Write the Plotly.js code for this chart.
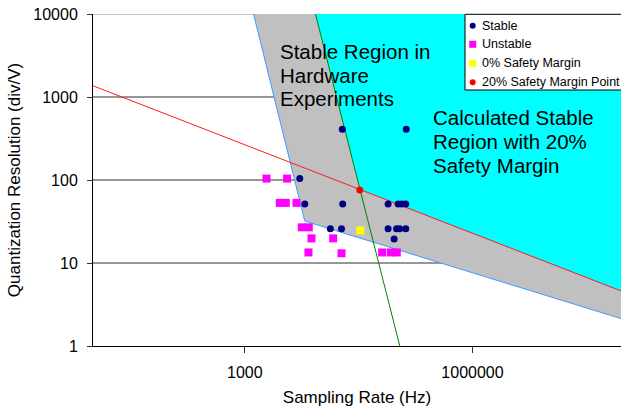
<!DOCTYPE html>
<html>
<head>
<meta charset="utf-8">
<script src="https://cdn.plot.ly/plotly-3.0.1.min.js"></script>
<style>
  html, body { margin: 0; padding: 0; background: #ffffff; }
  #chart { width: 621px; height: 407px; }
</style>
</head>
<body>
<div id="chart"></div>
<script>
// Hardware runs: sampling rate (Hz) against quantization resolution (div/V)
const stableRate = [5300, 6170, 19300, 134000, 19500, 77300, 104700, 117000, 132000,
                    13400, 18800, 77300, 99800, 110000, 132000, 92700];
const stableRes  = [104, 51.5, 409, 409, 51.5, 51.5, 51.5, 51.5, 51.5,
                    25.8, 25.8, 25.8, 25.8, 25.8, 25.8, 19.4];

const unstableRate = [1930, 3610, 2890, 3470, 4800, 5630, 6970, 7570, 6900,
                      14600, 18800, 64400, 83900, 100700];
const unstableRes  = [104, 104, 53, 53, 53, 26.9, 26.9, 19.8, 13.4,
                      19.8, 13.1, 13.4, 13.4, 13.4];

const zeroMarginRate = [33400];
const zeroMarginRes  = [24.7];

const marginPointRate = [32700];
const marginPointRes  = [75.7];

// Boundary of the stable region observed in hardware (blue)
const hwBoundRate = [1303, 6166, 100000000];
const hwBoundRes  = [10000, 32, 2.08];

// Calculated limits with 20% safety margin
const resLimitRate  = [10, 100000000];   // red: resolution limit
const resLimitRes   = [1365, 4.45];
const rateLimitRate = [8530, 110100];    // green: sampling-rate limit
const rateLimitRes  = [10000, 1];

// Axis extents and ticks
const xMin = 10, xMax = 100000000, yMin = 1, yMax = 10000;
const xTickVals = [1000, 1000000];
const xTickText = ['1000', '1000000'];
const yTickVals = [1, 10, 100, 1000, 10000];
const yTickText = ['1', '10', '100', '1000', '10000'];
const gridVals  = [10, 100, 1000];

const legendNames = ['Stable', 'Unstable', '0% Safety Margin', '20% Safety Margin Point'];

// ---- geometry of the plotting area (px) ----
const W = 621, H = 407;
const M = { l: 93, r: 0, t: 14, b: 61 };
const plotW = W - M.l - M.r, plotH = H - M.t - M.b;
const pxPerDecadeX = 75.9;
const xRangeLog = [1, 1 + plotW / pxPerDecadeX];
const px = x => (x - M.l) / plotW;          // page x -> paper x
const py = y => (H - M.b - y) / plotH;      // page y -> paper y

const FONT = 'Liberation Sans, Arial, sans-serif';

// intersection of the two safety-margin lines (in log space)
function intersect(ax, ay, bx, by) {
  const L = Math.log10;
  const m1 = (L(ay[1]) - L(ay[0])) / (L(ax[1]) - L(ax[0]));
  const m2 = (L(by[1]) - L(by[0])) / (L(bx[1]) - L(bx[0]));
  const c1 = L(ay[0]) - m1 * L(ax[0]);
  const c2 = L(by[0]) - m2 * L(bx[0]);
  const lx = (c2 - c1) / (m1 - m2);
  return [Math.pow(10, lx), Math.pow(10, m1 * lx + c1)];
}
const corner = intersect(resLimitRate, resLimitRes, rateLimitRate, rateLimitRes);

function pathOf(pts) {
  return 'M' + pts.map(p => p[0] + ',' + p[1]).join('L') + 'Z';
}

const hwRegion = hwBoundRate.map((x, i) => [x, hwBoundRes[i]]).concat([[xMax, yMax]]);
const calcRegion = [
  [rateLimitRate[0], rateLimitRes[0]],
  corner,
  [resLimitRate[1], resLimitRes[1]],
  [xMax, yMax]
];

const shapes = [
  { type: 'path', xref: 'x', yref: 'y', layer: 'below', path: pathOf(hwRegion),
    fillcolor: '#c0c0c0', line: { width: 0 } },
  { type: 'path', xref: 'x', yref: 'y', layer: 'below', path: pathOf(calcRegion),
    fillcolor: '#00ffff', line: { width: 0 } }
];

// horizontal gridlines (the 1000 line stops behind the "Experiments" label)
const textGap = [px(278), px(397)];
gridVals.forEach(v => {
  const segs = v === 1000 ? [[0, textGap[0]], [textGap[1], 1]] : [[0, 1]];
  segs.forEach(s => shapes.push({
    type: 'line', xref: 'paper', yref: 'y', layer: 'below',
    x0: s[0], x1: s[1], y0: v, y1: v, line: { color: '#2e2e2e', width: 1 }
  }));
});
shapes.push({ type: 'line', xref: 'paper', yref: 'y', layer: 'below',
  x0: 0, x1: 1, y0: yMax, y1: yMax, line: { color: '#8a8a8a', width: 1 } });

// legend box and swatches
shapes.push({ type: 'rect', xref: 'paper', yref: 'paper', layer: 'above',
  x0: px(465), x1: px(630), y0: py(90), y1: py(14.3),
  fillcolor: '#ffffff', line: { color: '#000000', width: 1 } });

const legendRowsY = [25.7, 44.3, 63.3, 82.3];
const swatch = [
  { kind: 'circle', color: '#000080', size: 6 },
  { kind: 'rect',   color: '#ff00ff', size: 7 },
  { kind: 'rect',   color: '#ffff00', size: 7 },
  { kind: 'circle', color: '#ff0000', size: 6 }
];
swatch.forEach((s, i) => {
  const h = s.size / 2;
  shapes.push({ type: s.kind, layer: 'above',
    xref: 'paper', yref: 'paper', xsizemode: 'pixel', ysizemode: 'pixel',
    xanchor: px(472.7), yanchor: py(legendRowsY[i]),
    x0: -h, x1: h, y0: -h, y1: h,
    fillcolor: s.color, line: { width: 0 } });
});

const annotations = [];
legendNames.forEach((name, i) => annotations.push({
  xref: 'paper', yref: 'paper', x: px(479.5), y: py(legendRowsY[i]),
  xanchor: 'left', yanchor: 'middle', showarrow: false, text: name,
  font: { family: FONT, size: 12.5, color: '#000000' }
}));

const regionText = [
  { lines: ['Stable Region in', 'Hardware', 'Experiments'], x: 277.5, ys: [51.7, 75.3, 99] },
  { lines: ['Calculated Stable', 'Region with 20%', 'Safety Margin'], x: 431, ys: [117.3, 141.7, 165.3] }
];
regionText.forEach(b => b.lines.forEach((t, i) => annotations.push({
  xref: 'paper', yref: 'paper', x: px(b.x), y: py(b.ys[i]),
  xanchor: 'left', yanchor: 'middle', showarrow: false, text: t,
  font: { family: FONT, size: 20.5, color: '#000000' }
})));

const traces = [
  { x: hwBoundRate, y: hwBoundRes, mode: 'lines', name: 'Hardware boundary',
    line: { color: '#3d9bff', width: 1 }, showlegend: false, hoverinfo: 'skip' },
  { x: resLimitRate, y: resLimitRes, mode: 'lines', name: 'Resolution limit',
    line: { color: '#ff1a1a', width: 1 }, showlegend: false, hoverinfo: 'skip' },
  { x: rateLimitRate, y: rateLimitRes, mode: 'lines', name: 'Sampling-rate limit',
    line: { color: '#008000', width: 1 }, showlegend: false, hoverinfo: 'skip' },
  { x: stableRate, y: stableRes, mode: 'markers', name: legendNames[0],
    marker: { symbol: 'circle', size: 7, color: '#000080' }, showlegend: false },
  { x: unstableRate, y: unstableRes, mode: 'markers', name: legendNames[1],
    marker: { symbol: 'square', size: 8, color: '#ff00ff' }, showlegend: false },
  { x: zeroMarginRate, y: zeroMarginRes, mode: 'markers', name: legendNames[2],
    marker: { symbol: 'square', size: 8, color: '#ffff00' }, showlegend: false },
  { x: marginPointRate, y: marginPointRes, mode: 'markers', name: legendNames[3],
    marker: { symbol: 'circle', size: 7, color: '#ff0000' }, showlegend: false }
];

const layout = {
  width: W, height: H,
  margin: M,
  paper_bgcolor: '#ffffff', plot_bgcolor: '#ffffff',
  font: { family: FONT, color: '#000000' },
  showlegend: false,
  xaxis: {
    type: 'log', range: xRangeLog, autorange: false,
    tickmode: 'array', tickvals: xTickVals, ticktext: xTickText,
    ticks: 'outside', ticklen: 6, tickcolor: '#333333', tickwidth: 1,
    ticklabelstandoff: 6,
    showgrid: false, zeroline: false,
    showline: true, linecolor: '#000000', linewidth: 1,
    tickfont: { family: FONT, size: 16, color: '#000000' },
    title: { text: 'Sampling Rate (Hz)', font: { family: FONT, size: 17, color: '#000000' }, standoff: 10 }
  },
  yaxis: {
    type: 'log', range: [Math.log10(yMin), Math.log10(yMax)], autorange: false,
    tickmode: 'array', tickvals: yTickVals, ticktext: yTickText,
    ticks: 'outside', ticklen: 5, tickcolor: '#333333', tickwidth: 1,
    ticklabelstandoff: 6,
    showgrid: false, zeroline: false,
    showline: true, linecolor: '#000000', linewidth: 1,
    tickfont: { family: FONT, size: 16, color: '#000000' },
    title: { text: 'Quantization Resolution (div/V)', font: { family: FONT, size: 17, color: '#000000' }, standoff: 8 }
  },
  shapes: shapes,
  annotations: annotations
};

Plotly.newPlot('chart', traces, layout, { displayModeBar: false, staticPlot: true });
</script>
</body>
</html>
